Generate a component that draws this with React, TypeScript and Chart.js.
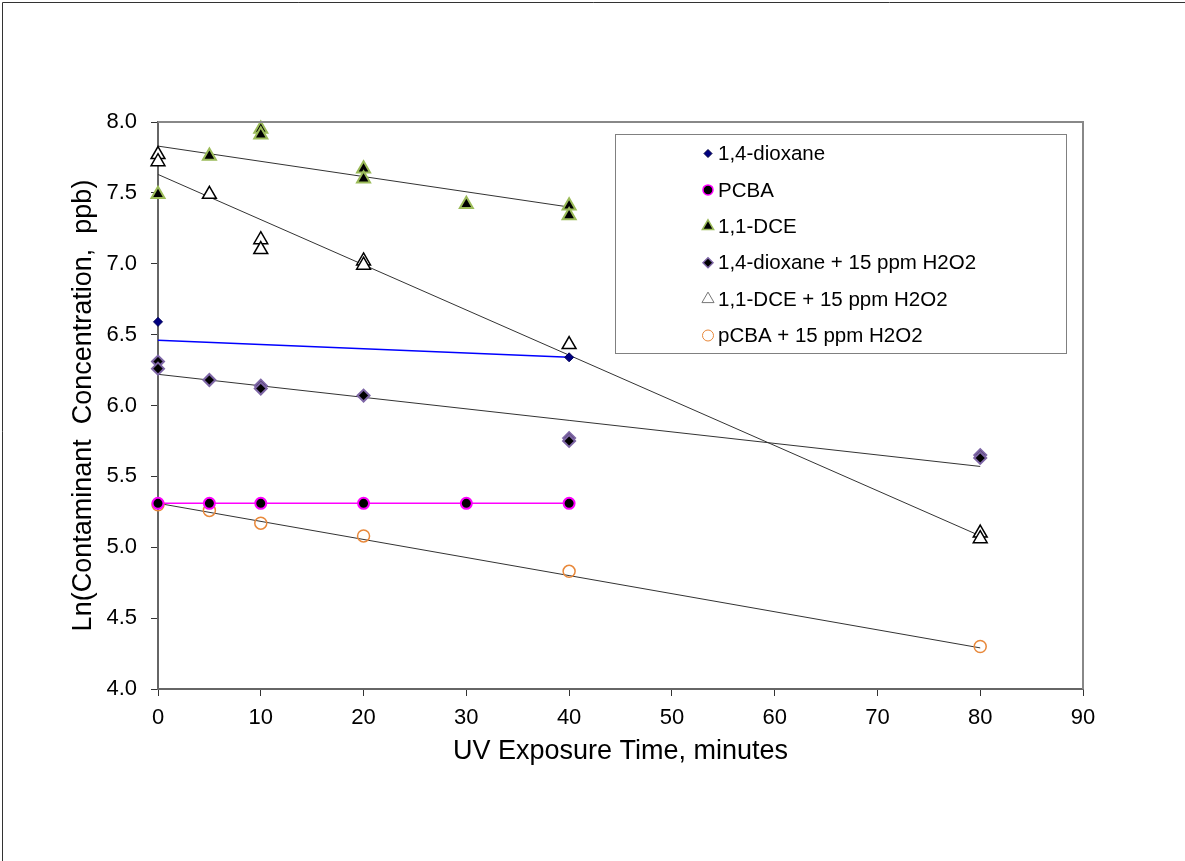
import React, { useEffect, useRef } from 'react';
import { Chart, registerables } from 'chart.js';

Chart.register(...registerables);

const FONT = '"Liberation Sans", Arial, Helvetica, sans-serif';

// ---- data ----
const xTitle = 'UV Exposure Time, minutes';
const yTitle = 'Ln(Contaminant  Concentration,  ppb)';

const dioxaneX = [0, 40];
const dioxaneY = [6.59, 6.34];

const pcbaX = [0, 5, 10, 20, 30, 40];
const pcbaY = [5.31, 5.31, 5.31, 5.31, 5.31, 5.31];

const dceX = [0, 5, 10, 10, 20, 20, 30, 40, 40];
const dceY = [7.49, 7.76, 7.95, 7.91, 7.67, 7.6, 7.42, 7.41, 7.34];

const dioxH2O2X = [0, 0, 5, 10, 10, 20, 40, 40, 80, 80];
const dioxH2O2Y = [6.31, 6.26, 6.18, 6.14, 6.12, 6.07, 5.77, 5.75, 5.65, 5.63];

const dceH2O2X = [0, 0, 5, 10, 10, 20, 20, 40, 80, 80];
const dceH2O2Y = [7.77, 7.72, 7.49, 7.17, 7.1, 7.02, 6.99, 6.43, 5.1, 5.06];

const pcbaH2O2X = [0, 5, 10, 20, 40, 80];
const pcbaH2O2Y = [5.3, 5.26, 5.17, 5.08, 4.83, 4.3];

// trend lines: [x0, x1], [y0, y1]
const trendDioxaneX = [0, 40];
const trendDioxaneY = [6.46, 6.34];
const trendPcbaX = [0, 40];
const trendPcbaY = [5.31, 5.31];
const trendDceX = [0, 40];
const trendDceY = [7.83, 7.4];
const trendDioxH2O2X = [0, 80];
const trendDioxH2O2Y = [6.22, 5.57];
const trendDceH2O2X = [0, 80];
const trendDceH2O2Y = [7.63, 5.08];
const trendPcbaH2O2X = [0, 80];
const trendPcbaH2O2Y = [5.31, 4.29];

const legendLabels = [
  '1,4-dioxane',
  'PCBA',
  '1,1-DCE',
  '1,4-dioxane + 15 ppm H2O2',
  '1,1-DCE + 15 ppm H2O2',
  'pCBA + 15 ppm H2O2',
];

const xTicks = [0, 10, 20, 30, 40, 50, 60, 70, 80, 90];
const yTicks = [4.0, 4.5, 5.0, 5.5, 6.0, 6.5, 7.0, 7.5, 8.0];

const pts = (xs: number[], ys: number[]) => xs.map((x, i) => ({ x, y: ys[i] }));

const styles = [
  { pointStyle: 'rectRot', radius: 4.5, bg: '#000080', border: '#00005a', bw: 1 },
  { pointStyle: 'circle', radius: 5.5, bg: '#000000', border: '#FF00FF', bw: 2 },
  { pointStyle: 'triangle', radius: 7.5, bg: '#000000', border: '#9BBB59', bw: 2 },
  { pointStyle: 'rectRot', radius: 6, bg: '#000000', border: '#7E66A6', bw: 2 },
  { pointStyle: 'triangle', radius: 8, bg: '#FFFFFF', border: '#000000', bw: 1.5 },
  { pointStyle: 'circle', radius: 6, bg: 'rgba(255,255,255,0)', border: '#E8883A', bw: 1.5 },
];

const legendStyles = [
  { pointStyle: 'rectRot', radius: 4, bg: '#000080', border: '#000040', bw: 1 },
  { pointStyle: 'circle', radius: 5, bg: '#000000', border: '#FF00FF', bw: 1.5 },
  { pointStyle: 'triangle', radius: 6.5, bg: '#000000', border: '#9BBB59', bw: 1.5 },
  { pointStyle: 'rectRot', radius: 5, bg: '#000000', border: '#7E66A6', bw: 1.5 },
  { pointStyle: 'triangle', radius: 7, bg: '#FFFFFF', border: '#777777', bw: 1 },
  { pointStyle: 'circle', radius: 5.5, bg: '#FFFFFF', border: '#E8883A', bw: 1 },
];

function drawMarker(ctx: CanvasRenderingContext2D, s: any, x: number, y: number) {
  ctx.save();
  ctx.fillStyle = s.bg;
  ctx.strokeStyle = s.border;
  ctx.lineWidth = s.bw;
  ctx.beginPath();
  const r = s.radius;
  if (s.pointStyle === 'circle') {
    ctx.arc(x, y, r, 0, Math.PI * 2);
  } else if (s.pointStyle === 'rectRot') {
    ctx.moveTo(x, y - r);
    ctx.lineTo(x + r, y);
    ctx.lineTo(x, y + r);
    ctx.lineTo(x - r, y);
    ctx.closePath();
  } else {
    const a = -Math.PI / 2;
    for (let i = 0; i < 3; i++) {
      const ang = a + (i * 2 * Math.PI) / 3;
      const px = x + Math.cos(ang) * r;
      const py = y + Math.sin(ang) * r;
      if (i === 0) ctx.moveTo(px, py);
      else ctx.lineTo(px, py);
    }
    ctx.closePath();
  }
  ctx.fill();
  ctx.stroke();
  ctx.restore();
}

const framePlugin = {
  id: 'frameAndLegend',
  beforeDraw(chart: any) {
    const ctx = chart.ctx as CanvasRenderingContext2D;
    ctx.save();
    ctx.fillStyle = '#ffffff';
    ctx.fillRect(0, 0, chart.width, chart.height);
    ctx.strokeStyle = '#333333';
    ctx.lineWidth = 1;
    ctx.beginPath();
    ctx.moveTo(2.5, chart.height);
    ctx.lineTo(2.5, 2.5);
    ctx.lineTo(chart.width, 2.5);
    ctx.stroke();
    ctx.restore();
  },
  afterDraw(chart: any) {
    const ctx = chart.ctx as CanvasRenderingContext2D;
    const { top, right, left, bottom } = chart.chartArea;
    ctx.save();
    ctx.strokeStyle = '#888888';
    ctx.lineWidth = 2;
    ctx.beginPath();
    ctx.moveTo(left, top);
    ctx.lineTo(right, top);
    ctx.lineTo(right, bottom);
    ctx.stroke();

    // legend
    const bx = 615.5, by = 134.5, bw = 451, bh = 219;
    ctx.fillStyle = '#ffffff';
    ctx.fillRect(bx, by, bw, bh);
    ctx.strokeStyle = '#808080';
    ctx.lineWidth = 1;
    ctx.strokeRect(bx, by, bw, bh);
    ctx.font = `20.5px ${FONT}`;
    ctx.fillStyle = '#000000';
    ctx.textBaseline = 'middle';
    ctx.textAlign = 'left';
    legendLabels.forEach((lab, i) => {
      const cy = 153.5 + i * 36.4;
      drawMarker(ctx, legendStyles[i], 708, cy);
      ctx.fillStyle = '#000000';
      ctx.fillText(lab, 718, cy + 1);
    });
    ctx.restore();
  },
};

export default function App() {
  const ref = useRef<HTMLCanvasElement>(null);
  useEffect(() => {
    const series = [
      pts(dioxaneX, dioxaneY),
      pts(pcbaX, pcbaY),
      pts(dceX, dceY),
      pts(dioxH2O2X, dioxH2O2Y),
      pts(dceH2O2X, dceH2O2Y),
      pts(pcbaH2O2X, pcbaH2O2Y),
    ];
    const scatterSets = series.map((data, i) => ({
      type: 'scatter' as const,
      label: legendLabels[i],
      data,
      showLine: false,
      pointStyle: styles[i].pointStyle as any,
      pointRadius: styles[i].radius,
      pointBackgroundColor: styles[i].bg,
      pointBorderColor: styles[i].border,
      pointBorderWidth: styles[i].bw,
      clip: false as any,
    }));
    // draw order: first datasets on top -> PCBA above pCBA+H2O2
    const orderedScatter = [scatterSets[1], scatterSets[0], scatterSets[3], scatterSets[2], scatterSets[4], scatterSets[5]];
    const trend = (xs: number[], ys: number[], color: string, w: number) => ({
      type: 'line' as const,
      label: 'trend',
      data: pts(xs, ys),
      borderColor: color,
      borderWidth: w,
      pointRadius: 0,
      fill: false,
      clip: false as any,
    });
    const trendSets = [
      trend(trendDioxaneX, trendDioxaneY, '#0000FF', 1.5),
      trend(trendPcbaX, trendPcbaY, '#FF00FF', 1.5),
      trend(trendDceX, trendDceY, '#333333', 1),
      trend(trendDioxH2O2X, trendDioxH2O2Y, '#333333', 1),
      trend(trendDceH2O2X, trendDceH2O2Y, '#333333', 1),
      trend(trendPcbaH2O2X, trendPcbaH2O2Y, '#333333', 1),
    ];

    const chart = new Chart(ref.current as HTMLCanvasElement, {
      type: 'scatter',
      data: { datasets: [...orderedScatter, ...trendSets] as any },
      options: {
        responsive: false,
        animation: false,
        events: [],
        layout: { padding: { left: 67.3, top: 122, right: 102, bottom: 92.8 } },
        plugins: { legend: { display: false }, tooltip: { enabled: false } },
        scales: {
          x: {
            type: 'linear',
            min: 0,
            max: 90,
            afterBuildTicks: (s: any) => {
              s.ticks = xTicks.map((v) => ({ value: v }));
            },
            afterFit: (s: any) => {
              s.height = 79.2;
            },
            ticks: {
              color: '#000',
              font: { family: FONT, size: 22 },
              padding: 9,
              maxRotation: 0,
              callback: (v: any) => String(v),
            },
            grid: { display: true, drawOnChartArea: false, drawTicks: true, tickLength: 7, color: '#333333' },
            border: { display: true, color: '#666666', width: 2 },
            title: { display: true, text: xTitle, color: '#000', font: { family: FONT, size: 27 }, padding: 0 },
          },
          y: {
            type: 'linear',
            min: 4,
            max: 8,
            afterBuildTicks: (s: any) => {
              s.ticks = yTicks.map((v) => ({ value: v }));
            },
            afterFit: (s: any) => {
              s.width = 90.7;
            },
            ticks: {
              color: '#000',
              font: { family: FONT, size: 22 },
              padding: 14,
              callback: (v: any) => Number(v).toFixed(1),
            },
            grid: { display: true, drawOnChartArea: false, drawTicks: true, tickLength: 7, color: '#333333' },
            border: { display: true, color: '#666666', width: 2 },
            title: { display: true, text: yTitle, color: '#000', font: { family: FONT, size: 27 }, padding: 0 },
          },
        },
      },
      plugins: [framePlugin],
    });
    return () => chart.destroy();
  }, []);
  return (
    <div style={{ position: 'fixed', left: 0, top: 0, width: 1185, height: 861, background: '#fff' }}>
      <canvas ref={ref} width={1185} height={861} style={{ display: 'block', width: 1185, height: 861 }} />
    </div>
  );
}
